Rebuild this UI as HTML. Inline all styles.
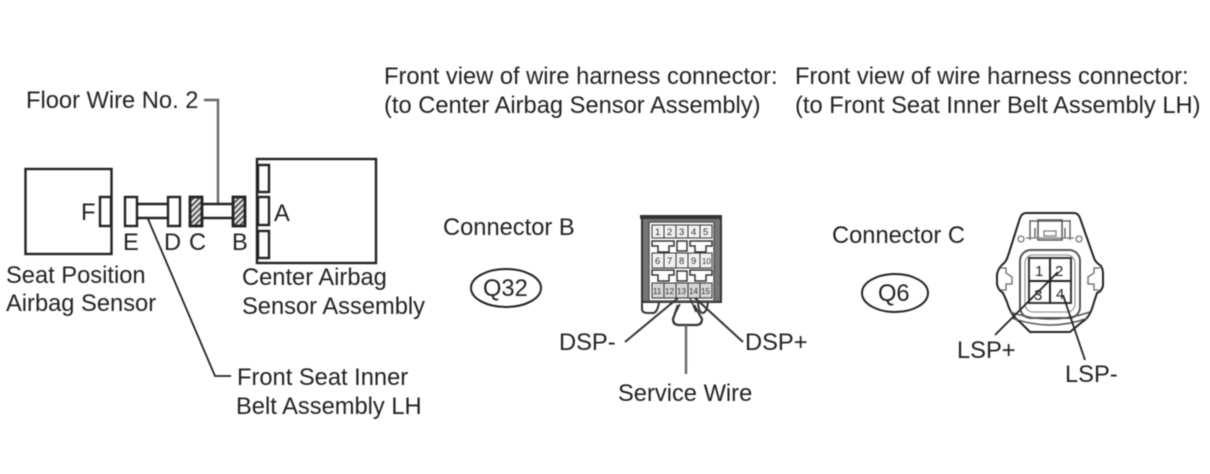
<!DOCTYPE html>
<html><head><meta charset="utf-8"><style>
html,body{margin:0;padding:0;background:#fff;width:1210px;height:474px;overflow:hidden}
svg{display:block;filter:blur(.45px)}
text{font-family:"Liberation Sans",sans-serif;font-size:23.7px;fill:#222}
.s{font-size:9.5px;fill:#333}
</style></head><body>
<svg width="1210" height="474" viewBox="0 0 1210 474" xmlns="http://www.w3.org/2000/svg">
<defs><pattern id="h" width="4" height="4" patternUnits="userSpaceOnUse" patternTransform="rotate(-45)"><rect width="4" height="4" fill="#eee"/><rect width="4" height="2" fill="#555"/></pattern></defs>
<text x="384" y="84">Front view of wire harness connector:</text>
<text x="384" y="113">(to Center Airbag Sensor Assembly)</text>
<text x="795" y="84">Front view of wire harness connector:</text>
<text x="795" y="113">(to Front Seat Inner Belt Assembly LH)</text>
<text x="26" y="108">Floor Wire No. 2</text>
<g fill="none" stroke="#222" stroke-width="2.4">
<path d="M204 100H218V204" stroke="#666" stroke-width="2.4"/>
<rect x="25.500" y="169" width="86" height="85"/>
<rect x="257" y="159" width="119" height="104"/>
<rect x="100" y="197" width="11" height="29" fill="#fff"/>
<rect x="258" y="165" width="11" height="27"/>
<rect x="258" y="197" width="11" height="28"/>
<rect x="258" y="231" width="11" height="27"/>
<rect x="125" y="197" width="12" height="29" fill="#fff"/>
<rect x="168" y="197" width="12" height="29" fill="#fff"/>
<path d="M137 204H168M137 218H168M203 204H232M203 218H232"/>
<rect x="190" y="197" width="12" height="29" fill="url(#h)" stroke-width="2.800"/>
<rect x="233" y="197" width="12" height="29" fill="url(#h)" stroke-width="2.800"/>
<path d="M148 219L215 376H231" stroke-width="1.800"/>
</g>
<text x="81" y="220">F</text><text x="274" y="221">A</text>
<text x="123" y="250">E</text><text x="164" y="250">D</text><text x="189" y="250">C</text><text x="232" y="250">B</text>
<text x="6" y="283">Seat Position</text><text x="6" y="311">Airbag Sensor</text>
<text x="242" y="285">Center Airbag</text><text x="242" y="314">Sensor Assembly</text>
<text x="237" y="385">Front Seat Inner</text><text x="236" y="414">Belt Assembly LH</text>
<text x="443" y="235">Connector B</text><text x="832" y="243">Connector C</text>
<ellipse cx="506" cy="288" rx="35" ry="19" fill="none" stroke="#222" stroke-width="2"/>
<text x="483" y="296">Q32</text>
<ellipse cx="895" cy="293" rx="33" ry="19" fill="none" stroke="#222" stroke-width="2"/>
<text x="878" y="301">Q6</text>

<!-- Connector B -->
<g fill="none" stroke="#333">
<rect x="642" y="216" width="79" height="86" fill="#777" stroke="#333" stroke-width="2"/>
<rect x="649" y="222" width="65" height="79" fill="#fff" stroke="#555" stroke-width="1.500"/>
<path d="M640 217H722" stroke="#333" stroke-width="4"/>
<path d="M642 302V309Q642 313 648 313H653Q657 313 659 303M698 303Q699 313 703 313Q707 312 708 302" stroke-width="2"/>
<path d="M678 305L673 319Q673 325 679 325H696Q702 325 702 319L694 305" stroke-width="2.200" fill="#fff"/>
<path d="M680 304L676 312M690 298L696 312" stroke-width="1.500"/>
<rect x="652" y="225" width="60" height="13" stroke-width="1" fill="#f0f0f0"/>
<rect x="652" y="253" width="60" height="15" stroke-width="1" fill="#f0f0f0"/>
<rect x="652" y="283" width="60" height="15" stroke-width="1" fill="#d5d5d5"/>
<path d="M664 225V238M676 225V238M688 225V238M700 225V238M664 253V268M676 253V268M688 253V268M700 253V268M664 283V298M676 283V298M688 283V298M700 283V298" stroke-width="1"/>
<path d="M652 241H674V246H669V252H658V246H652ZM690 241H712V246H706V252H695V246H690ZM652 270H674V275H669V281H658V275H652ZM690 270H712V275H706V281H695V275H690Z" stroke-width="1.500"/>
<rect x="677" y="241" width="10" height="10" stroke-width="1.500"/>
<rect x="677" y="271" width="10" height="10" stroke-width="1.500"/>
<path d="M625 342L678 298M743 342L695 298" stroke-width="2"/>
<path d="M686 325V374" stroke="#666" stroke-width="2.400"/>
</g>
<g>
<text class="s" x="655" y="235">1</text><text class="s" x="667" y="235">2</text><text class="s" x="679" y="235">3</text><text class="s" x="691" y="235">4</text><text class="s" x="703" y="235">5</text>
<text class="s" x="655" y="264">6</text><text class="s" x="667" y="264">7</text><text class="s" x="679" y="264">8</text><text class="s" x="691" y="264">9</text><text class="s" x="702" y="264" style="font-size:8px">10</text>
<text class="s" x="653" y="294" style="font-size:8px">11</text><text class="s" x="665" y="294" style="font-size:8px">12</text><text class="s" x="677" y="294" style="font-size:8px">13</text><text class="s" x="689" y="294" style="font-size:8px">14</text><text class="s" x="701" y="294" style="font-size:8px">15</text>
</g>
<text x="559" y="350">DSP-</text><text x="745" y="350">DSP+</text><text x="618" y="401">Service Wire</text>

<!-- Connector C -->
<g fill="none" stroke="#222" stroke-width="2">
<path d="M1026 213H1074Q1078 213 1080 218L1094 258Q1096 263 1100 265Q1103 268 1103 274V286Q1101 292 1097 293L1094 302Q1090 318 1082 322L1070 332H1030L1020 322Q1011 316 1007 302L1003 293Q998 290 997 284V274Q999 267 1003 264Q1006 262 1008 256L1020 218Q1022 213 1026 213Z"/>
<path d="M1030 220V240M1070 220V240M1030 221H1070M1035 228V238M1065 228V238" stroke="#666" stroke-width="1.500"/>
<rect x="1038" y="220" width="24" height="20" stroke="#555" stroke-width="1.500"/>
<rect x="1044" y="231" width="12" height="5" stroke="#777" stroke-width="1.200"/>
<path d="M1026 238H1074" stroke="#777" stroke-width="1.300"/>
<circle cx="1021" cy="239" r="3" stroke="#777" stroke-width="1.300"/>
<circle cx="1079" cy="239" r="3" stroke="#777" stroke-width="1.300"/>
<rect x="1020" y="250" width="60" height="68" rx="11" stroke="#555"/>
<rect x="1025" y="255" width="50" height="57" rx="8" stroke="#999" stroke-width="1.300"/>
<rect x="1029" y="258" width="42" height="45" fill="#fff" stroke="#333"/>
<path d="M1050 258V303M1029 281H1071"/>
<path d="M1010 312Q1050 326 1090 312M1012 318Q1050 332 1088 318" stroke="#555" stroke-width="1.500"/>
<path d="M1000 268H1006V273L1012 277V284L1006 284V290H1001M1100 268H1094V273L1088 277V284L1094 284V290H1099" stroke="#666" stroke-width="1.300"/>
<path d="M995 335L1058 272M1063 295L1085 360" stroke-width="1.800"/>
</g>
<text x="1035" y="276" style="font-size:15px">1</text><text x="1055" y="276" style="font-size:15px">2</text>
<text x="1034" y="300" style="font-size:15px">3</text><text x="1056" y="299" style="font-size:15px">4</text>
<text x="957" y="358">LSP+</text><text x="1065" y="382">LSP-</text>
</svg>
</body></html>
